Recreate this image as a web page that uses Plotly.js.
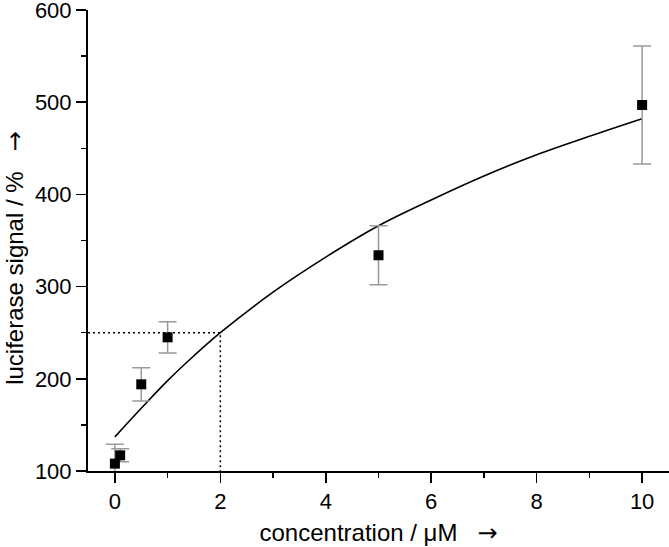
<!DOCTYPE html>
<html>
<head>
<meta charset="utf-8">
<script src="https://cdn.plot.ly/plotly-3.0.1.min.js"></script>
<style>
  body { margin: 0; background: #fff; }
  #chart { width: 669px; height: 547px; }
</style>
</head>
<body>
<div id="chart"></div>
<script>
// measured points (concentration in uM, signal in %)
let concX = [0, 0.1, 0.5, 1, 5, 10];
let signalY = [108, 117, 194, 245, 334, 497];
let signalErr = [21, 7, 18, 17, 32, 64];

// fitted curve
let fitX = [0, 0.5, 1, 1.5, 2, 3, 4, 5, 6, 7, 8, 9, 10];
let fitY = [137, 168, 198, 225, 250, 294, 332, 366, 394, 420, 443, 463, 482];

// dotted guide at 250 %
let guideX = [-0.51, 2, 2];
let guideY = [250, 250, 100];

let xTicks = [0, 2, 4, 6, 8, 10];
let yTicks = [100, 200, 300, 400, 500, 600];

let arrow = '<span style="font-family:DejaVu Sans">\u2192</span>';

let traceGuide = {
    x: guideX,
    y: guideY,
    mode: 'lines',
    line: { color: '#000', width: 1.5, dash: '2px,3px' },
    hoverinfo: 'skip'
};

let traceFit = {
    x: fitX,
    y: fitY,
    mode: 'lines',
    line: { color: '#000', width: 1.6, shape: 'spline' }
};

let tracePoints = {
    x: concX,
    y: signalY,
    mode: 'markers',
    marker: { symbol: 'square', size: 10, color: '#000' },
    error_y: {
        type: 'data',
        array: signalErr,
        visible: true,
        color: '#999',
        thickness: 1.5,
        width: 9
    }
};

let axisFont = { family: 'Liberation Sans, Arial, sans-serif', size: 22, color: '#000' };
let titleFont = { family: 'Liberation Sans, Arial, sans-serif', size: 24, color: '#000' };

let layout = {
    width: 669,
    height: 547,
    margin: { l: 88, r: 0, t: 10, b: 76 },
    paper_bgcolor: '#fff',
    plot_bgcolor: '#fff',
    showlegend: false,
    font: axisFont,
    xaxis: {
        range: [-0.51, 10.51],
        tickvals: xTicks,
        ticks: 'outside',
        ticklen: 10,
        tickwidth: 1.5,
        tickcolor: '#000',
        showline: true,
        linecolor: '#000',
        linewidth: 2,
        showgrid: false,
        zeroline: false,
        tickfont: axisFont,
        ticklabeloverflow: 'allow',
        minor: { dtick: 1, tick0: 0, ticks: 'outside', ticklen: 5, tickwidth: 1.5, tickcolor: '#000', showgrid: false },
        title: {
            text: 'concentration / \u03bcM\u00a0\u00a0\u00a0' + arrow,
            font: titleFont,
            standoff: 13
        }
    },
    yaxis: {
        range: [100, 600],
        tickvals: yTicks,
        ticks: 'outside',
        ticklen: 10,
        tickwidth: 1.5,
        tickcolor: '#000',
        showline: true,
        linecolor: '#000',
        linewidth: 2,
        showgrid: false,
        zeroline: false,
        tickfont: axisFont,
        ticklabeloverflow: 'allow',
        minor: { dtick: 50, tick0: 100, ticks: 'outside', ticklen: 5, tickwidth: 1.5, tickcolor: '#000', showgrid: false }
    },
    annotations: [{
        text: 'luciferase signal / %\u00a0\u00a0\u00a0' + arrow,
        textangle: -90,
        xref: 'paper',
        yref: 'paper',
        x: -0.126,
        y: 0.462,
        xanchor: 'center',
        yanchor: 'middle',
        showarrow: false,
        font: titleFont
    }]
};

Plotly.newPlot('chart', [traceGuide, traceFit, tracePoints], layout, { displayModeBar: false, staticPlot: true });
</script>
</body>
</html>
